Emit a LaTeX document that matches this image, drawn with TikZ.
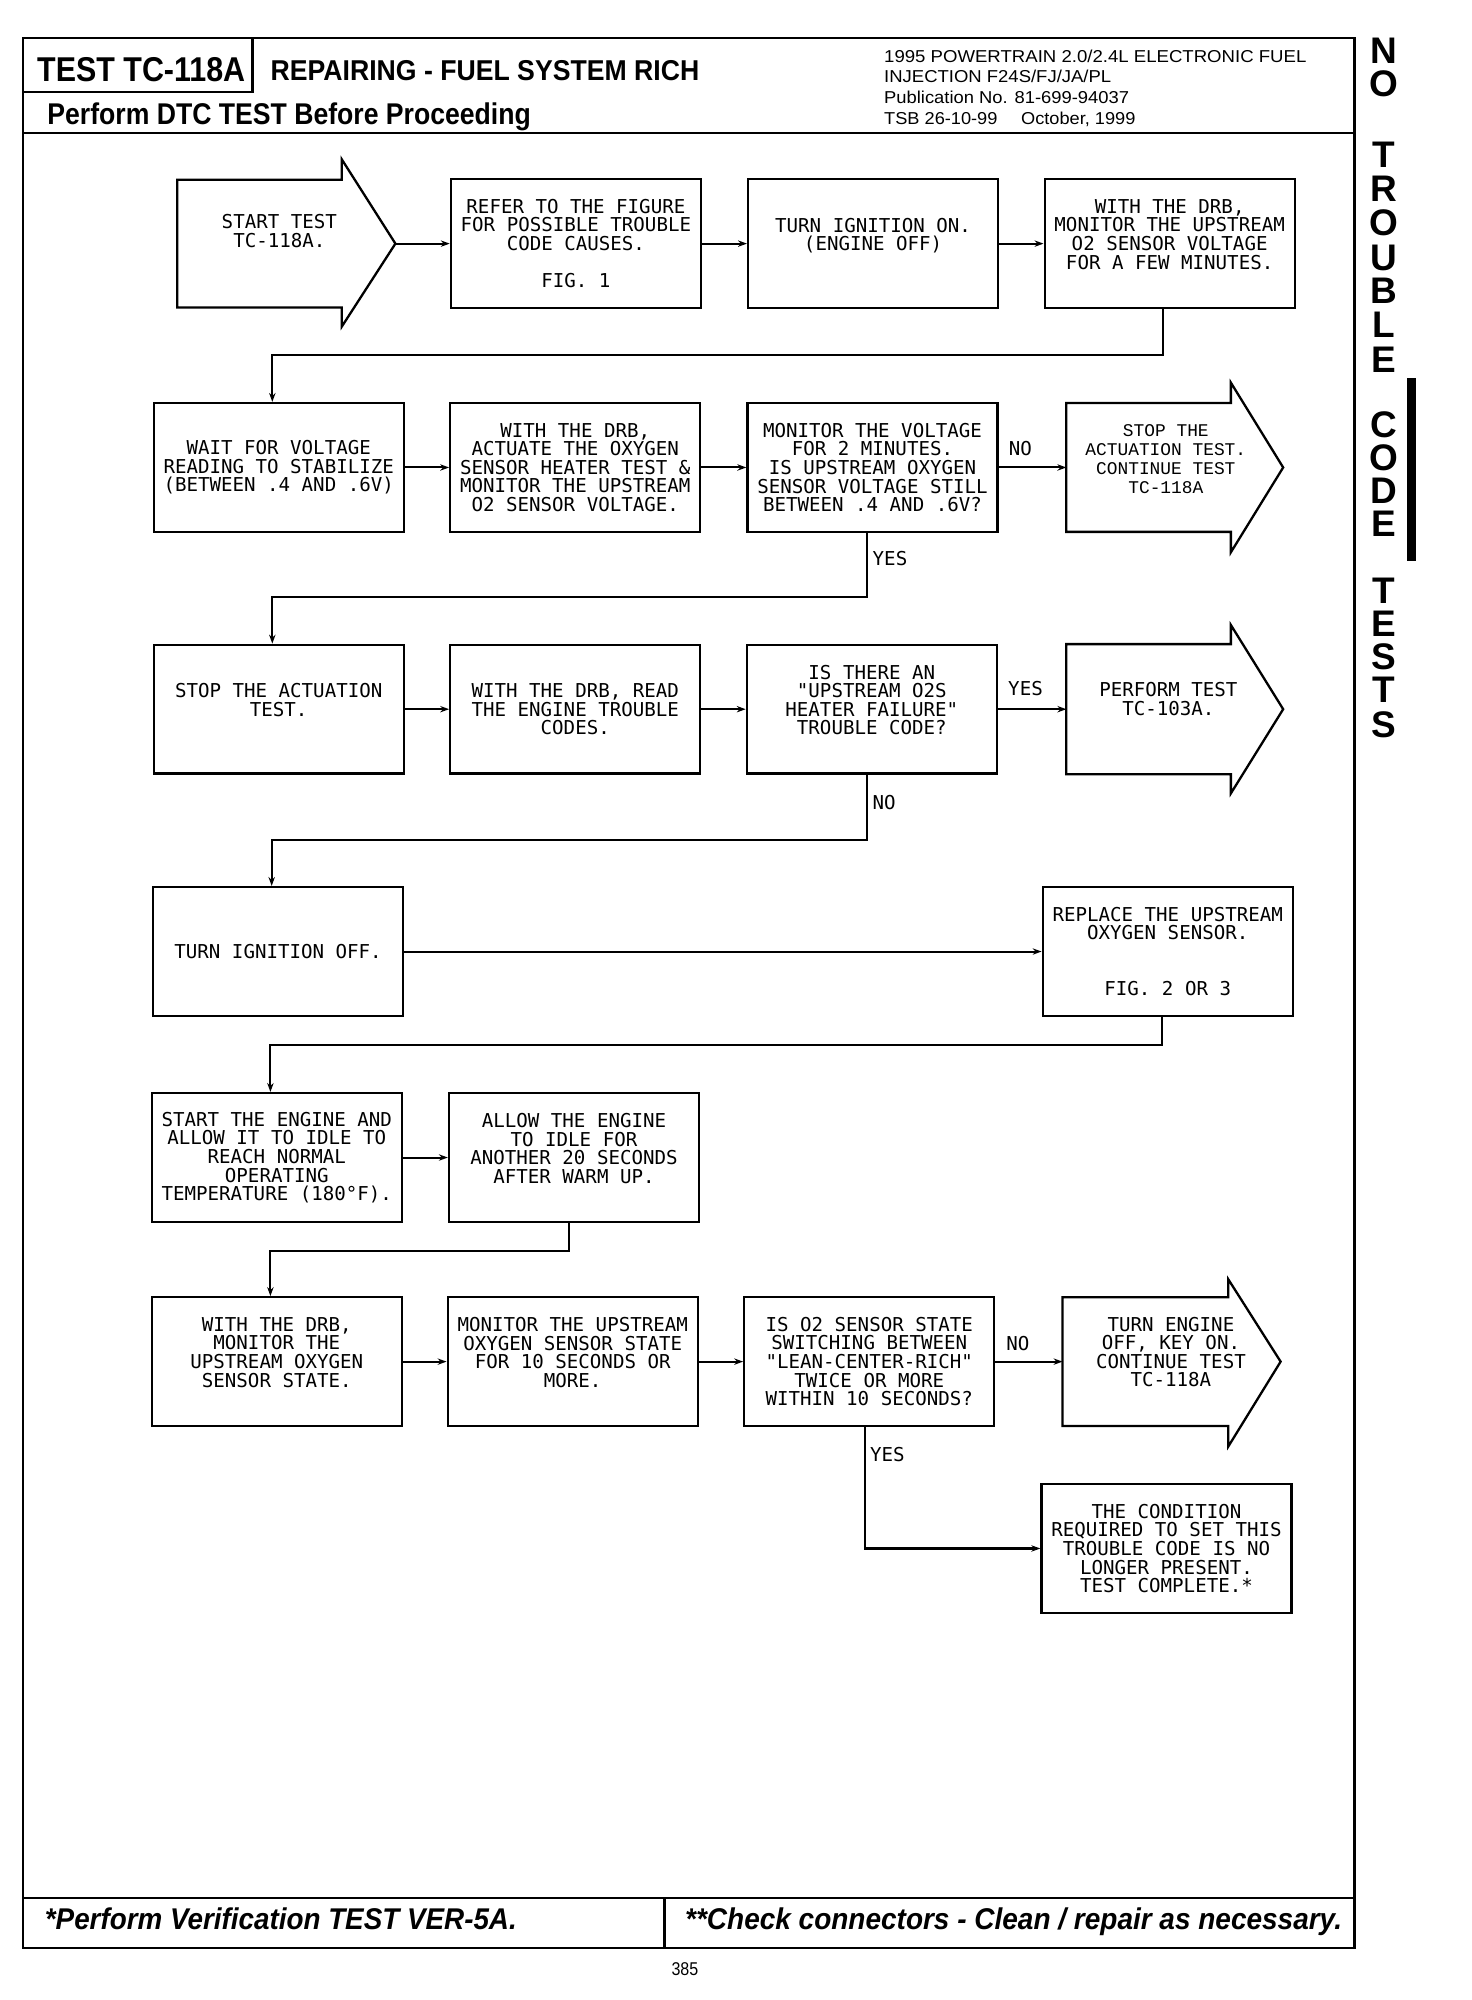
\documentclass[tikz,border=0pt]{standalone}
\usepackage{fontspec}
\usepackage{graphicx}
\setmainfont{Liberation Sans}
\newfontfamily\plotfont{DejaVu Sans Mono}
\newfontfamily\courfont{Liberation Mono}
\usetikzlibrary{arrows.meta}
\newcommand\fitw[2]{\resizebox{#1}{\height}{#2}}
\begin{document}
\begin{tikzpicture}[x=1pt,y=-1pt,
  box/.style={draw, line width=1.8pt, minimum width=196pt, minimum height=101pt, inner sep=0pt, align=center, font=\plotfont\fontsize{15}{14.6}\selectfont},
  btxt/.style={inner sep=0pt, align=center, font=\plotfont\fontsize{15}{14.6}\selectfont},
  ctxt/.style={inner sep=0pt, align=center, font=\courfont\fontsize{14}{14.8}\selectfont},
  lbl/.style={inner sep=0pt, font=\plotfont\fontsize{15}{14.6}\selectfont},
  conn/.style={line width=1.6pt, -{Stealth[length=7pt,width=5pt]}},
  fshape/.style={draw, line width=1.8pt, line join=miter},
  side/.style={inner sep=0pt, font=\bfseries\fontsize{29}{29}\selectfont},
  frame/.style={line width=1.8pt}
]
\useasboundingbox (0,0) rectangle (1154,1568);
\fill[white] (0,0) rectangle (1154,1568);

% ---------- page frame ----------
\draw[frame] (18,30) rectangle (1062,1527);
\draw[frame] (18,104) -- (1062,104);
\draw[frame] (198,30) -- (198,72) -- (18,72);
\draw[frame] (18,1488) -- (1062,1488);
\draw[frame] (521,1488) -- (521,1527);

% ---------- header ----------
\node[anchor=base west, inner sep=0pt, font=\bfseries\fontsize{27}{27}\selectfont] (hdtest) at (29,64) {\fitw{163pt}{TEST TC-118A}};
\node[anchor=base west, inner sep=0pt, font=\bfseries\fontsize{22.5}{22.5}\selectfont] (hdtitle) at (212,63) {\fitw{336pt}{REPAIRING - FUEL SYSTEM RICH}};
\node[anchor=base west, inner sep=0pt, font=\bfseries\fontsize{23.5}{23.5}\selectfont] (hdperf) at (37,98) {\fitw{379pt}{Perform DTC TEST Before Proceeding}};
\node[anchor=base west, inner sep=0pt, font=\fontsize{13.5}{13.5}\selectfont] (hr1) at (693,49) {\fitw{331pt}{1995 POWERTRAIN 2.0/2.4L ELECTRONIC FUEL}};
\node[anchor=base west, inner sep=0pt, font=\fontsize{13.5}{13.5}\selectfont] (hr2) at (693,65) {\fitw{178pt}{INJECTION F24S/FJ/JA/PL}};
\node[anchor=base west, inner sep=0pt, font=\fontsize{13.5}{13.5}\selectfont] (hr3) at (693,81) {\fitw{192pt}{Publication No. 81-699-94037}};
\node[anchor=base west, inner sep=0pt, font=\fontsize{13.5}{13.5}\selectfont] (hr4) at (693,98) {\fitw{197pt}{TSB 26-10-99\hspace{1.3em}October, 1999}};

% ---------- footer ----------
\node[anchor=base west, inner sep=0pt, font=\bfseries\itshape\fontsize{23.5}{23.5}\selectfont] (ft1) at (35,1513) {\fitw{370pt}{*Perform Verification TEST VER-5A.}};
\node[anchor=base west, inner sep=0pt, font=\bfseries\itshape\fontsize{23.5}{23.5}\selectfont] (ft2) at (537,1513) {\fitw{515pt}{**Check connectors - Clean / repair as necessary.}};
\node[anchor=base, inner sep=0pt, font=\fontsize{14.5}{14.5}\selectfont] (pg) at (537,1549) {\fitw{21pt}{385}};

% ---------- side tab ----------
\node[side] (s1) at (1085,40) {N};
\node[side] (s2) at (1085,66) {O};
\node[side] (s3) at (1085,121) {T};
\node[side] (s4) at (1085,148) {R};
\node[side] (s5) at (1085,175) {O};
\node[side] (s6) at (1085,202) {U};
\node[side] (s7) at (1085,228) {B};
\node[side] (s8) at (1085,255) {L};
\node[side] (s9) at (1085,282) {E};
\node[side] (s10) at (1085,333) {C};
\node[side] (s11) at (1085,359) {O};
\node[side] (s12) at (1085,385) {D};
\node[side] (s13) at (1085,411) {E};
\node[side] (s14) at (1085,463) {T};
\node[side] (s15) at (1085,489) {E};
\node[side] (s16) at (1085,515) {S};
\node[side] (s17) at (1085,541) {T};
\node[side] (s18) at (1085,568) {S};
\fill (1103,296) rectangle (1110,440);

% ---------- row 1 ----------
\draw[fshape] (139,141) -- (268,141) -- (268,125) -- (310,191) -- (268,256) -- (268,241) -- (139,241) -- cycle;
\coordinate (a0tip) at (310,191);
\node[btxt] (a0t) at (219,181) {START TEST\\TC-118A.};
\node[box] (b1) at (451.5,191) {REFER TO THE FIGURE\\FOR POSSIBLE TROUBLE\\CODE CAUSES.\\\mbox{}\\FIG. 1};
\node[box] (b2) at (684.5,191) {TURN IGNITION ON.\\(ENGINE OFF)\\\mbox{}};
\node[box] (b3) at (917,191) {WITH THE DRB,\\MONITOR THE UPSTREAM\\O2 SENSOR VOLTAGE\\FOR A FEW MINUTES.\\\mbox{}};
\draw[conn] (a0tip) -- (b1.west);
\draw[conn] (b1.east) -- (b2.west);
\draw[conn] (b2.east) -- (b3.west);

% ---------- row 2 ----------
\node[box] (b4) at (218.5,366.5) {WAIT FOR VOLTAGE\\READING TO STABILIZE\\(BETWEEN .4 AND .6V)};
\node[box] (b5) at (451,366.5) {WITH THE DRB,\\ACTUATE THE OXYGEN\\SENSOR HEATER TEST \&\\MONITOR THE UPSTREAM\\O2 SENSOR VOLTAGE.};
\node[box] (b6) at (684,366.5) {MONITOR THE VOLTAGE\\FOR 2 MINUTES.\\IS UPSTREAM OXYGEN\\SENSOR VOLTAGE STILL\\BETWEEN .4 AND .6V?};
\draw[fshape] (836,316) -- (965,316) -- (965,300) -- (1006,366.5) -- (965,433) -- (965,417) -- (836,417) -- cycle;
\coordinate (a1in) at (836,366.5);
\node[ctxt] (a1t) at (914,360) {STOP THE\\ACTUATION TEST.\\CONTINUE TEST\\TC-118A};
\draw[conn] ([xshift=-5pt]b3.south) -- ++(0,36) -| ([xshift=-5pt]b4.north);
\draw[conn] (b4.east) -- (b5.west);
\draw[conn] (b5.east) -- (b6.west);
\draw[conn] (b6.east) -- (a1in);
\node[lbl] (no1) at (800,352) {NO};
\node[lbl, anchor=west] (yes1) at (684,438) {YES};

% ---------- row 3 ----------
\node[box] (b7) at (218.5,556) {STOP THE ACTUATION\\TEST.\\\mbox{}};
\node[box] (b8) at (451,556) {WITH THE DRB, READ\\THE ENGINE TROUBLE\\CODES.};
\node[box] (b9) at (683.5,556) {IS THERE AN\\"UPSTREAM O2S\\HEATER FAILURE"\\TROUBLE CODE?\\\mbox{}};
\draw[fshape] (836,505) -- (965,505) -- (965,490) -- (1006,556) -- (965,622) -- (965,607) -- (836,607) -- cycle;
\coordinate (a2in) at (836,556);
\node[btxt] (a2t) at (916,548) {PERFORM TEST\\TC-103A.};
\draw[conn] ([xshift=-4pt]b6.south) -- ++(0,50) -| ([xshift=-5pt]b7.north);
\draw[conn] (b7.east) -- (b8.west);
\draw[conn] (b8.east) -- (b9.west);
\draw[conn] (b9.east) -- (a2in);
\node[lbl] (yes2) at (804,540) {YES};
\node[lbl, anchor=west] (no2) at (684,629) {NO};

% ---------- row 4 ----------
\node[box] (b10) at (218,746) {TURN IGNITION OFF.};
\node[box] (b11) at (915.5,746) {REPLACE THE UPSTREAM\\OXYGEN SENSOR.\\\mbox{}\\\mbox{}\\FIG. 2 OR 3};
\draw[conn] ([xshift=-3.5pt]b9.south) -- ++(0,51) -| ([xshift=-5pt]b10.north);
\draw[conn] (b10.east) -- (b11.west);

% ---------- row 5 ----------
\node[box] (b12) at (217,907.5) {START THE ENGINE AND\\ALLOW IT TO IDLE TO\\REACH NORMAL\\OPERATING\\TEMPERATURE (180°F).};
\node[box] (b13) at (450,907.5) {ALLOW THE ENGINE\\TO IDLE FOR\\ANOTHER 20 SECONDS\\AFTER WARM UP.\\\mbox{}};
\draw[conn] ([xshift=-4.5pt]b11.south) -- ++(0,22) -| ([xshift=-5pt]b12.north);
\draw[conn] (b12.east) -- (b13.west);

% ---------- row 6 ----------
\node[box] (b14) at (217,1067.5) {WITH THE DRB,\\MONITOR THE\\UPSTREAM OXYGEN\\SENSOR STATE.\\\mbox{}};
\node[box] (b15) at (449,1067.5) {MONITOR THE UPSTREAM\\OXYGEN SENSOR STATE\\FOR 10 SECONDS OR\\MORE.\\\mbox{}};
\node[box] (b16) at (681.5,1067.5) {IS O2 SENSOR STATE\\SWITCHING BETWEEN\\"LEAN-CENTER-RICH"\\TWICE OR MORE\\WITHIN 10 SECONDS?};
\draw[fshape] (833,1017) -- (963,1017) -- (963,1003) -- (1004,1067.5) -- (963,1134) -- (963,1118) -- (833,1118) -- cycle;
\coordinate (a3in) at (833,1067.5);
\node[btxt] (a3t) at (918,1060) {TURN ENGINE\\OFF, KEY ON.\\CONTINUE TEST\\TC-118A};
\node[box] (b17) at (914.5,1214) {THE CONDITION\\REQUIRED TO SET THIS\\TROUBLE CODE IS NO\\LONGER PRESENT.\\TEST COMPLETE.*};
\draw[conn] ([xshift=-4pt]b13.south) -- ++(0,22) -| ([xshift=-5pt]b14.north);
\draw[conn] (b14.east) -- (b15.west);
\draw[conn] (b15.east) -- (b16.west);
\draw[conn] (b16.east) -- (a3in);
\draw[conn] ([xshift=-3.5pt]b16.south) |- (b17.west);
\node[lbl] (no3) at (798,1053) {NO};
\node[lbl, anchor=west] (yes3) at (682,1140) {YES};
\end{tikzpicture}
\end{document}
